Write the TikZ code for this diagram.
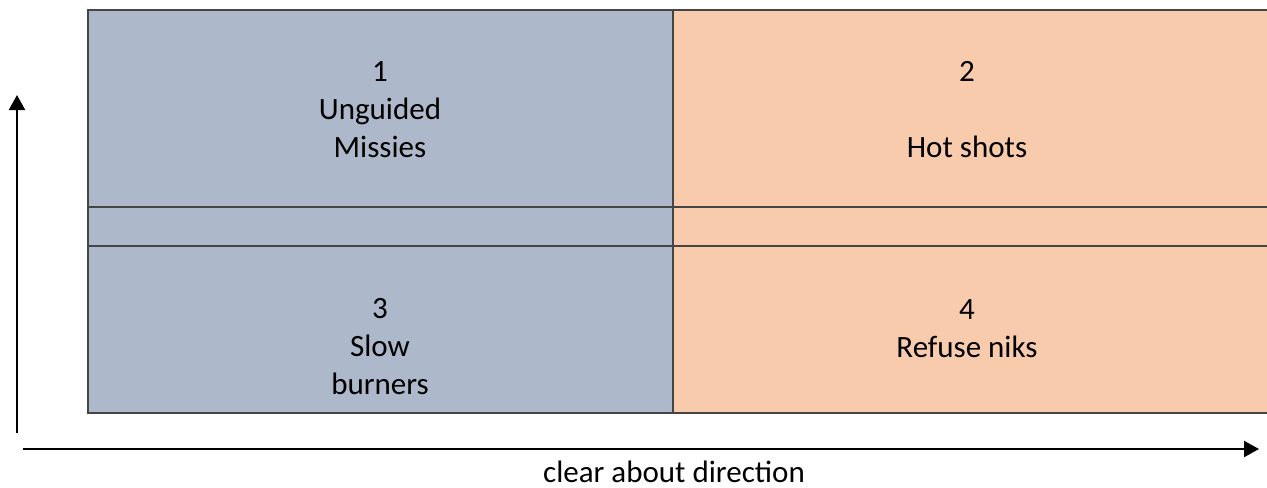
\documentclass[tikz,border=0pt]{standalone}
\usepackage{fontspec}
\setmainfont{Carlito}
\usetikzlibrary{arrows.meta}

\definecolor{bluegray}{HTML}{ADB9CA}
\definecolor{peach}{HTML}{F8CBAD}
\definecolor{gridline}{HTML}{454545}

\tikzset{
  cell/.style={draw=gridline, line width=0.6pt},
  celltext/.style={align=center, font=\fontsize{15.5}{19}\selectfont, inner sep=0pt},
  axis/.style={line width=1.1pt, -{Triangle[length=7.5pt,width=8pt]}}
}

\begin{document}
\begin{tikzpicture}[x=0.5pt,y=-0.5pt]
      \useasboundingbox (0,0) rectangle (1267,487);
      \begin{scope}
        \clip (0,0) rectangle (1267,487);
        % left column
        \fill[bluegray] (88,10) rectangle (673,413);
        \fill[peach] (673,10) rectangle (1270,413);
        \draw[cell] (1270,10) -- (88,10) -- (88,413) -- (1270,413);
        \draw[cell] (88,207) -- (1270,207);
        \draw[cell] (88,246) -- (1270,246);
        \draw[cell] (673,10) -- (673,413);
      \end{scope}

      \node[celltext] (q1) at (380,110) {1\\Unguided\\Missies};
      \node[celltext] (q2) at (967,110) {2\\\strut\\Hot shots};
      \node[celltext] (q3) at (380,347) {3\\Slow\\burners};
      \node[celltext] (q4) at (967,329) {4\\Refuse niks};

      %axes
      \coordinate (ybot) at (17,433);
      \coordinate (ytop) at (17,95);
      \coordinate (xleft) at (23,449);
      \coordinate (xright) at (1259,449);
      \draw[axis] (ybot) -- (ytop);
      \draw[axis] (xleft) -- (xright);
      \node[celltext] (xlabel) at (674,472) {clear about direction};
\end{tikzpicture}
\end{document}
